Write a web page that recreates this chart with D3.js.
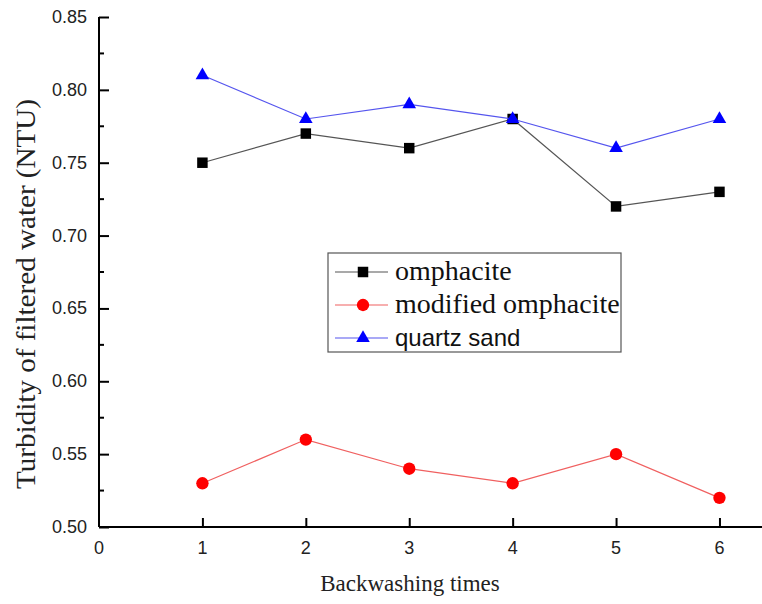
<!DOCTYPE html>
<html>
<head>
<meta charset="utf-8">
<script src="https://cdn.jsdelivr.net/npm/d3@7"></script>
<style>
  body { margin: 0; background: #fff; }
</style>
</head>
<body>
<div id="chart"></div>
<script>
// data
const times = [1, 2, 3, 4, 5, 6];
const omphacite = [0.75, 0.77, 0.76, 0.78, 0.72, 0.73];
const modifiedOmphacite = [0.53, 0.56, 0.54, 0.53, 0.55, 0.52];
const quartzSand = [0.81, 0.78, 0.79, 0.78, 0.76, 0.78];
const xTicks = [0, 1, 2, 3, 4, 5, 6];
const yTicks = [0.50, 0.55, 0.60, 0.65, 0.70, 0.75, 0.80, 0.85];

const svgWidth = 762;
const svgHeight = 604;
const serif = "'Liberation Serif', 'Times New Roman', serif";
const sans = "'Liberation Sans', Arial, sans-serif";

const svg = d3.select('#chart')
    .append('svg')
    .attr('width', svgWidth)
    .attr('height', svgHeight);

// plot box (only left and bottom axes are drawn)
const x = d3.scaleLinear().domain([0, 6.45]).range([99, 766]);
const y = d3.scaleLinear().domain([0.5, 0.85]).range([527, 17]);

// y axis, ticks point inward
const yAxis = svg.append('g')
    .attr('transform', `translate(${x(0)},0)`)
    .call(d3.axisRight(y).tickValues(yTicks).tickSize(10).tickFormat(''));
yAxis.select('.domain').attr('d', `M0,${y(0.85)}V${y(0.5)}`).attr('stroke-width', 2);
yAxis.selectAll('line').attr('stroke-width', 2);

// minor ticks
svg.append('g').selectAll('line')
    .data(yTicks.slice(0, -1).map(d => d + 0.025))
    .enter().append('line')
    .attr('x1', x(0)).attr('x2', x(0) + 5)
    .attr('y1', d => y(d)).attr('y2', d => y(d))
    .attr('stroke', '#000').attr('stroke-width', 2);

svg.append('g').selectAll('text')
    .data(yTicks)
    .enter().append('text')
    .attr('x', 87)
    .attr('y', d => y(d) + 6)
    .attr('text-anchor', 'end')
    .style('font-family', sans)
    .attr('font-size', 18)
    .attr('fill', '#222')
    .text(d => d3.format('.2f')(d));

// x axis, ticks point up
const xAxis = svg.append('g')
    .attr('transform', `translate(0,${y(0.5)})`)
    .call(d3.axisTop(x).tickValues(times).tickSize(9).tickFormat(''));
xAxis.select('.domain').attr('d', `M${x(0)},0H766`).attr('stroke-width', 2);
xAxis.selectAll('line').attr('stroke-width', 2);

svg.append('g').selectAll('text')
    .data(xTicks)
    .enter().append('text')
    .attr('x', d => x(d))
    .attr('y', 554)
    .attr('text-anchor', 'middle')
    .style('font-family', sans)
    .attr('font-size', 18)
    .attr('fill', '#222')
    .text(d => d);

// axis titles
svg.append('text')
    .attr('x', 410)
    .attr('y', 591)
    .attr('text-anchor', 'middle')
    .style('font-family', serif)
    .attr('font-size', 23)
    .attr('fill', '#222')
    .text('Backwashing times');

svg.append('text')
    .attr('transform', 'translate(35,294) rotate(-90)')
    .attr('text-anchor', 'middle')
    .style('font-family', serif)
    .attr('font-size', 27)
    .attr('textLength', 390)
    .attr('lengthAdjust', 'spacingAndGlyphs')
    .attr('fill', '#222')
    .text('Turbidity of filtered water (NTU)');

// series
const series = [
    {name: 'omphacite', values: omphacite, line: '#555', fill: '#000', shape: d3.symbolSquare, size: 110, font: serif, fs: 28},
    {name: 'modified omphacite', values: modifiedOmphacite, line: '#f06060', fill: '#f00', shape: d3.symbolCircle, size: 120, font: serif, fs: 28},
    {name: 'quartz sand', values: quartzSand, line: '#5555ee', fill: '#00f', shape: d3.symbolTriangle, size: 80, font: sans, fs: 24}
];

const line = d3.line()
    .x((d, i) => x(times[i]))
    .y(d => y(d));

series.forEach(s => {
    svg.append('path')
        .attr('d', line(s.values))
        .attr('fill', 'none')
        .attr('stroke', s.line)
        .attr('stroke-width', 1.2);
    svg.append('g').selectAll('path')
        .data(s.values)
        .enter().append('path')
        .attr('transform', (d, i) => `translate(${x(times[i])},${y(d)})`)
        .attr('d', d3.symbol().type(s.shape).size(s.size))
        .attr('fill', s.fill);
});

// legend
const legend = svg.append('g').attr('transform', 'translate(328,253)');
legend.append('rect')
    .attr('width', 293).attr('height', 99)
    .attr('fill', '#fff').attr('stroke', '#555').attr('stroke-width', 1.2);

series.forEach((s, i) => {
    const ly = 19 + i * 33;
    legend.append('line')
        .attr('x1', 7).attr('x2', 60)
        .attr('y1', ly).attr('y2', ly)
        .attr('stroke', s.line).attr('stroke-width', 1.2);
    legend.append('path')
        .attr('transform', `translate(35,${ly})`)
        .attr('d', d3.symbol().type(s.shape).size(s.size))
        .attr('fill', s.fill);
    legend.append('text')
        .attr('x', 67)
        .attr('y', ly + 8)
        .style('font-family', s.font)
        .attr('font-size', s.fs)
        .attr('fill', '#111')
        .text(s.name);
});
</script>
</body>
</html>
